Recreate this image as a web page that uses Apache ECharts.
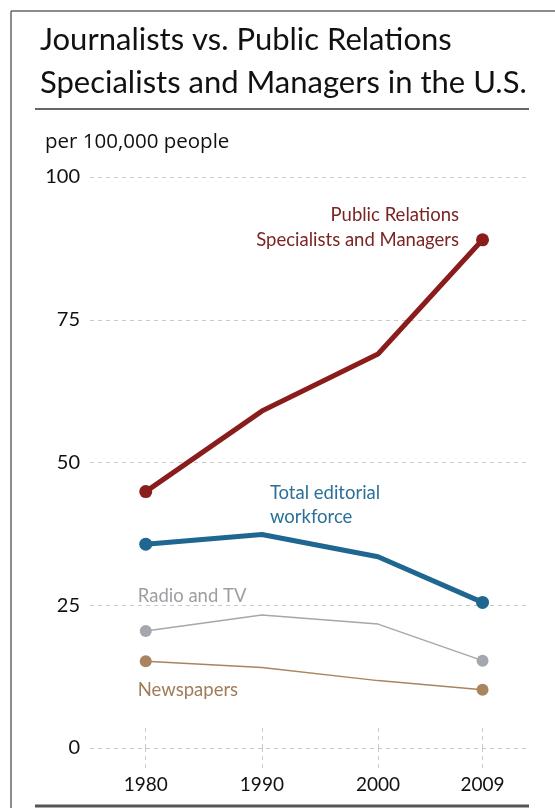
<!DOCTYPE html>
<html>
<head>
<meta charset="utf-8">
<script src="https://cdn.jsdelivr.net/npm/echarts@6/dist/echarts.min.js"></script>
<style>
  html, body { margin: 0; padding: 0; background: #fff; }
  #chart { width: 555px; height: 808px; }
</style>
</head>
<body>
<div id="chart"></div>
<script>
// Occupations per 100,000 people in the U.S.
const years = [1980, 1990, 2000, 2009];
const publicRelations = [44.9, 59.0, 69.0, 89.0];
const editorialTotal = [35.7, 37.4, 33.5, 25.5];
const radioTv = [20.5, 23.3, 21.7, 15.3];
const newspapers = [15.2, 14.1, 11.8, 10.2];
const yTicks = [0, 25, 50, 75, 100];

const FONT = 'Lato, "Open Sans", sans-serif';

function pairs(values, labelAt, label) {
  return values.map((v, i) => {
    const item = { value: [years[i], v] };
    if (i === labelAt) item.label = Object.assign({ show: true, fontFamily: FONT }, label);
    return item;
  });
}

// dots only on the first and last year
function endDots(size) {
  return (val, params) => (params.dataIndex === 0 || params.dataIndex === years.length - 1) ? size : 0;
}

const chart = echarts.init(document.getElementById('chart'), null, { renderer: 'canvas' });

chart.setOption({
  backgroundColor: '#ffffff',
  animation: false,
  title: [
    {
      text: 'Journalists vs. Public Relations\nSpecialists and Managers in the U.S.',
      left: 35, top: 13,
      textStyle: { fontFamily: FONT, fontSize: 31, fontWeight: 'normal', color: '#111', lineHeight: 43 }
    },
    {
      text: 'per 100,000 people',
      left: 40, top: 127,
      textStyle: { fontFamily: '"Open Sans", Lato, sans-serif', fontSize: 20.5, fontWeight: 'normal', color: '#111' }
    }
  ],
  graphic: [
    { type: 'line', shape: { x1: 11, y1: 11, x2: 555, y2: 11 }, style: { stroke: '#666', lineWidth: 1.5 } },
    { type: 'line', shape: { x1: 11, y1: 11, x2: 11, y2: 808 }, style: { stroke: '#666', lineWidth: 1.5 } },
    { type: 'line', shape: { x1: 35, y1: 109, x2: 529, y2: 109 }, style: { stroke: '#666', lineWidth: 2 } },
    { type: 'line', shape: { x1: 35, y1: 806, x2: 529, y2: 806 }, style: { stroke: '#555', lineWidth: 3 } }
  ],
  grid: { left: 90, right: 26, top: 177, bottom: 60 },
  xAxis: [
    {
      type: 'value', min: 1975.2, max: 2013,
      axisLine: { show: false },
      splitLine: { show: false },
      axisTick: { show: true, customValues: years, length: 22, lineStyle: { color: '#c8c8c8', type: [4, 4], width: 1 } },
      axisLabel: { customValues: years, margin: 27, fontFamily: FONT, fontSize: 19, color: '#111', formatter: v => String(v) }
    },
    {
      type: 'value', min: 1975.2, max: 2013, position: 'bottom',
      axisLine: { show: false },
      splitLine: { show: false },
      axisLabel: { show: false },
      axisTick: { show: true, inside: true, customValues: years, length: 24, lineStyle: { color: '#c8c8c8', type: [4, 4], width: 1 } }
    }
  ],
  yAxis: {
    type: 'value', min: 0, max: 100, interval: 25,
    axisLine: { show: false },
    axisTick: { show: false },
    axisLabel: { customValues: yTicks, margin: 10, fontFamily: FONT, fontSize: 20, color: '#111' },
    splitLine: { show: true, lineStyle: { color: '#c8c8c8', type: [4, 4], width: 1 } }
  },
  series: [
    {
      name: 'Newspapers', type: 'line', z: 2,
      data: pairs(newspapers, 0, {
        formatter: 'Newspapers', position: 'right', distance: 0, offset: [-14, 29],
        fontSize: 18.5, color: '#a07c5a'
      }),
      symbol: 'circle', symbolSize: endDots(12),
      lineStyle: { color: '#a8845f', width: 1.5 },
      itemStyle: { color: '#a8845f' }
    },
    {
      name: 'Radio and TV', type: 'line', z: 2,
      data: pairs(radioTv, 0, {
        formatter: 'Radio and TV', position: 'right', distance: 0, offset: [-14, -35],
        fontSize: 18.5, color: '#9c9ea2'
      }),
      symbol: 'circle', symbolSize: endDots(12),
      lineStyle: { color: '#a4a7ad', width: 1.5 },
      itemStyle: { color: '#a4a7ad' }
    },
    {
      name: 'Total editorial workforce', type: 'line', z: 3,
      data: pairs(editorialTotal, 1, {
        formatter: 'Total editorial\nworkforce', position: 'right', distance: 8, offset: [0, -29],
        fontSize: 18.5, lineHeight: 24, color: '#2b7098'
      }),
      symbol: 'circle', symbolSize: endDots(13),
      lineStyle: { color: '#1f6690', width: 5 },
      itemStyle: { color: '#1f6690' }
    },
    {
      name: 'Public Relations Specialists and Managers', type: 'line', z: 3,
      data: pairs(publicRelations, 3, {
        formatter: 'Public Relations\nSpecialists and Managers', position: 'left', distance: 17, offset: [0, -12],
        align: 'right', fontSize: 18.5, lineHeight: 25, color: '#7c2323'
      }),
      symbol: 'circle', symbolSize: endDots(13),
      lineStyle: { color: '#8a1c1c', width: 5 },
      itemStyle: { color: '#8a1c1c' }
    }
  ]
});
</script>
</body>
</html>
